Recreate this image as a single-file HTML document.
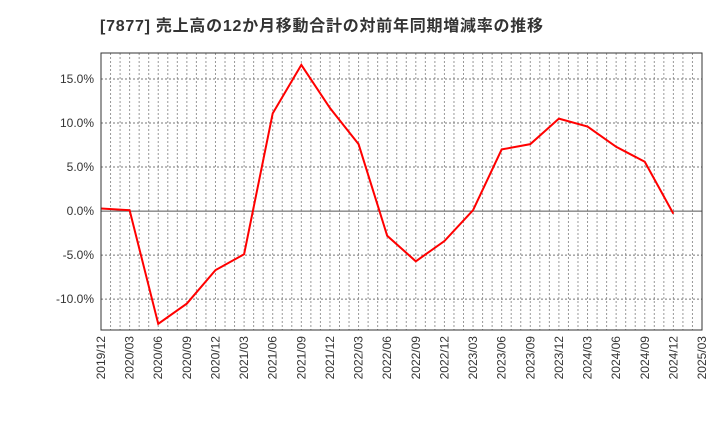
<!DOCTYPE html>
<html><head><meta charset="utf-8"><style>
body{margin:0;background:#fff;width:720px;height:440px;overflow:hidden}
svg{font-family:"Liberation Sans","Noto Sans CJK JP",sans-serif}
</style></head><body>
<svg id="c" width="720" height="440">
<text x="100" y="31" font-size="16" font-weight="bold" fill="#333" textLength="443" lengthAdjust="spacing">[7877]  売上高の12か月移動合計の対前年同期増減率の推移</text>
<g id="grid"></g><g id="axes"></g>
<polyline id="line" fill="none" stroke="#f00" stroke-width="2"/>
<rect x="101" y="53" width="601" height="277" fill="none" stroke="#333" stroke-width="1"/>
</svg>
<script>
const categories=["2019/12","2020/03","2020/06","2020/09","2020/12","2021/03","2021/06","2021/09","2021/12","2022/03","2022/06","2022/09","2022/12","2023/03","2023/06","2023/09","2023/12","2024/03","2024/06","2024/09","2024/12","2025/03"];
const values=[0.3,0.1,-12.8,-10.5,-6.7,-4.9,11.1,16.6,11.7,7.6,-2.8,-5.7,-3.4,0.1,7.0,7.6,10.5,9.6,7.3,5.6,-0.3];
const yTicks=[-10,-5,0,5,10,15];
const yTickLabels=["-10.0%","-5.0%","0.0%","5.0%","10.0%","15.0%"];
const X0=101,X1=702,Y0=53,Y1=330;
const yMax=17.95,yMin=-13.5;
const x=i=>X0+(X1-X0)*i/(categories.length-1);
const y=v=>Y0+(yMax-v)/(yMax-yMin)*(Y1-Y0);
const NS="http://www.w3.org/2000/svg";
const grid=document.getElementById('grid'),axes=document.getElementById('axes');
function mk(t,a,p){const e=document.createElementNS(NS,t);for(const k in a)e.setAttribute(k,a[k]);p.appendChild(e);return e;}
const nM=(categories.length-1)*3;
for(let m=1;m<nM;m++){const xx=X0+(X1-X0)*m/nM;
const l=mk('line',{x1:xx,x2:xx,y1:Y0,y2:Y1,stroke:'#999','stroke-dasharray':'2,2','stroke-width':1},grid);

}
yTicks.forEach((v,i)=>{const yy=y(v);
const l=mk('line',{x1:X0,x2:X1,y1:yy,y2:yy,stroke:v===0?'#555':'#777','stroke-dasharray':v===0?'none':'2,2','stroke-width':1},grid);


const t=mk('text',{x:X0-7,y:yy+4,'font-size':12,'text-anchor':'end',fill:'#333'},axes);t.textContent=yTickLabels[i];

});
categories.forEach((c,i)=>{const xx=x(i);
const t=mk('text',{x:0,y:0,'font-size':12,'text-anchor':'end',fill:'#333',transform:`translate(${xx+4},${Y1+6}) rotate(-90)`},axes);t.textContent=c;

});
document.getElementById('line').setAttribute('points',values.map((v,i)=>x(i)+','+y(v)).join(' '));
</script>
</body></html>
